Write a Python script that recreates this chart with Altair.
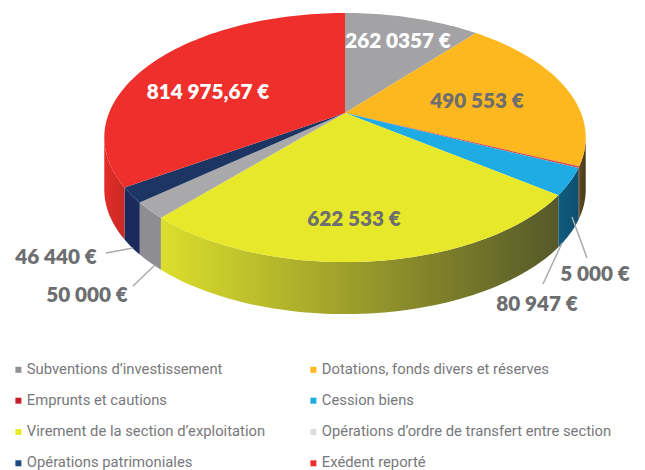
import math
import altair as alt
import pandas as pd

categories = ["Subventions d’investissement", "Dotations, fonds divers et réserves", "Emprunts et cautions", "Cession biens",
              "Virement de la section d’exploitation", "Opérations d’ordre de transfert entre section", "Opérations patrimoniales", "Exédent reporté"]
values = [262035.7, 490553, 5000, 80947, 622533, 50000, 46440, 814975.67]
colors = ["#a3a3a5", "#fdb71f", "#d8504a", "#1fabe3", "#e8e82a", "#a9a9ab", "#1d3563", "#ee2f2c"]
legend_colors = ["#8f9093", "#fdb71f", "#c8202a", "#1cabe2", "#e8e82a", "#dcdde0", "#1e4a80", "#ee2f2c"]
wall_light = ["#909090", "#5a4a20", "#5a2a18", "#0f5c7e", "#dcde2c", "#8e8e92", "#1a2a5c", "#e42c28"]
wall_dark = ["#909090", "#4a3a1a", "#5a2a18", "#0d4f6e", "#56582a", "#8e8e92", "#1a2a5c", "#c62a25"]
value_labels = ["262 0357 €", "490 553 €", "5 000 €", "80 947 €", "622 533 €", "50 000 €", "46 440 €", "814 975,67 €"]
label_colors = ["white", "#6d6e70", "#6d6e70", "#6d6e70", "#6d6e70", "#6d6e70", "#6d6e70", "white"]
label_x = [398, 477, 595, 537, 354, 87, 56, 208]
label_y = [42, 102, 275, 305, 220, 296, 258, 93]
lead_x = [587, 543, 133, 106]
lead_y = [258, 284, 286, 253]
lead_x2 = [572, 562, 155, 133]
lead_y2 = [217, 243, 265, 248]
legend_order = [0, 2, 4, 6, 1, 3, 5, 7]

CX, CY, A, B, K, DEPTH = 345, 113, 236, 119.7, -0.197, 52
W, H = 629, 462
SIL = math.asin(-K)


def project(theta, drop=0):
    sx, sy = math.sin(theta), -math.cos(theta)
    d = 1 + K * sy
    return CX - 8 + A * sx / d, CY - 8 + B * sy / d + drop


total = sum(values)
cum = [0]
for v in values:
    cum.append(cum[-1] + v / total * 2 * math.pi)

top_rows, wall_layers = [], []
xs = alt.Scale(domain=[0, W], range=[0, W])
ys = alt.Scale(domain=[0, H], range=[0, H])
for i, c in enumerate(categories):
    a0, a1 = cum[i], cum[i + 1]
    n = max(3, int((a1 - a0) * 40))
    ts = [a0 + (a1 - a0) * j / n for j in range(n + 1)]
    top_rows.append({"hex": colors[i], "cat": c, "o": -1, "x": CX - 8, "y": CY - 8})
    for j, t in enumerate(ts):
        x, y = project(t)
        top_rows.append({"hex": colors[i], "cat": c, "o": j, "x": x, "y": y})
    lo, hi = max(a0, math.pi / 2 + SIL), min(a1, 3 * math.pi / 2 - SIL)
    if lo < hi:
        m = max(3, int((hi - lo) * 40))
        rows = []
        for j in range(m + 1):
            t = lo + (hi - lo) * j / m
            x, y = project(t)
            _, y2 = project(t, DEPTH)
            rows.append({"x": x, "y": y, "y2": y2})
        grad = alt.Gradient(gradient="linear", x1=0, x2=1, y1=0, y2=0,
                            stops=[alt.GradientStop(offset=0, color=wall_light[i]),
                                   alt.GradientStop(offset=1, color=wall_dark[i])])
        wall_layers.append(
            alt.Chart(pd.DataFrame(rows)).mark_area(color=grad).encode(
                x=alt.X("x:Q", scale=xs, axis=None),
                y=alt.Y("y:Q", scale=ys, axis=None),
                y2="y2:Q",
            )
        )

tops = alt.Chart(pd.DataFrame(top_rows)).mark_line(filled=True, strokeWidth=0).encode(
    x=alt.X("x:Q", scale=xs, axis=None),
    y=alt.Y("y:Q", scale=ys, axis=None),
    order="o:Q",
    detail="cat:N",
    color=alt.Color("hex:N", scale=None),
)

dom = [categories[i] for i in legend_order]
rng = [legend_colors[i] for i in legend_order]
legend_layer = alt.Chart(pd.DataFrame({"cat": dom, "x": [0] * 8, "y": [0] * 8})).mark_square(size=0, opacity=1).encode(
    x=alt.X("x:Q", scale=xs, axis=None),
    y=alt.Y("y:Q", scale=ys, axis=None),
    fill=alt.Fill("cat:N", scale=alt.Scale(domain=dom, range=rng), sort=dom,
                  legend=alt.Legend(title=None, orient="none", legendX=3, legendY=354, columns=2,
                                    symbolType="square", symbolSize=36, symbolStrokeWidth=0, symbolOpacity=1,
                                    labelFont="Roboto", labelFontSize=14.8, labelColor="#77787b",
                                    rowPadding=15.3, columnPadding=40, labelLimit=330, labelOffset=1)),
)

labels = pd.DataFrame({"t": value_labels, "x": label_x, "y": label_y, "c": label_colors})
labels["x"] -= 8
labels["y"] -= 8
text = alt.Chart(labels).mark_text(font="Lato", fontWeight=800, fontSize=20.7).encode(
    x=alt.X("x:Q", scale=xs, axis=None),
    y=alt.Y("y:Q", scale=ys, axis=None),
    text="t:N",
    color=alt.Color("c:N", scale=None),
)

leads = pd.DataFrame({"x": lead_x, "y": lead_y, "x2": lead_x2, "y2": lead_y2}) - 8
rules = alt.Chart(leads).mark_rule(color="#a9abad", strokeWidth=1.5).encode(
    x=alt.X("x:Q", scale=xs, axis=None),
    y=alt.Y("y:Q", scale=ys, axis=None),
    x2="x2:Q",
    y2="y2:Q",
)

chart = alt.layer(*wall_layers, tops, rules, text, legend_layer).properties(
    width=W, height=H, padding=0, autosize=alt.AutoSizeParams(type="none")
).configure_view(stroke=None)

chart.save("out.html", embed_options={"renderer": "svg", "actions": False})
